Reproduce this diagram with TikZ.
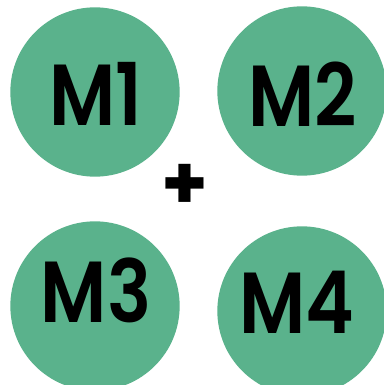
\documentclass[tikz,border=0pt]{standalone}
\usepackage{fontspec}
\newfontfamily\mfont{Poppins SemiBold}[FakeStretch=0.85]
\newfontfamily\pfont{Poppins Bold}
\usetikzlibrary{positioning}
\definecolor{mgreen}{RGB}{90,178,140}

\tikzset{
  ball/.style={circle, fill=mgreen, draw=none, minimum size=127pt, inner sep=0pt},
  mlabel/.style={font=\mfont\fontsize{65}{65}\selectfont, text=black, inner sep=0pt}
}

\begin{document}
\begin{tikzpicture}[x=0.75pt, y=-0.75pt]
	\useasboundingbox (0,0) rectangle (384,385);
	% the four circles
	\node[ball] (c1) at (95,92) {};
	\node[ball] (c2) at (302,91) {};
	\node[ball] (c3) at (95,306) {};
	\node[ball] (c4) at (302,311) {};

	% labels
	\node[mlabel] (t1) at (96,94) {M1};
	\node[mlabel] (t2) at (303,94) {M2};
	\node[mlabel] (t3) at (96,290) {M3};
	\node[mlabel] (t4) at (297,302) {M4};

	% plus sign
	\node[mlabel, font=\pfont\fontsize{56}{56}\selectfont] (plus) at (185,187) {+};
\end{tikzpicture}
\end{document}
